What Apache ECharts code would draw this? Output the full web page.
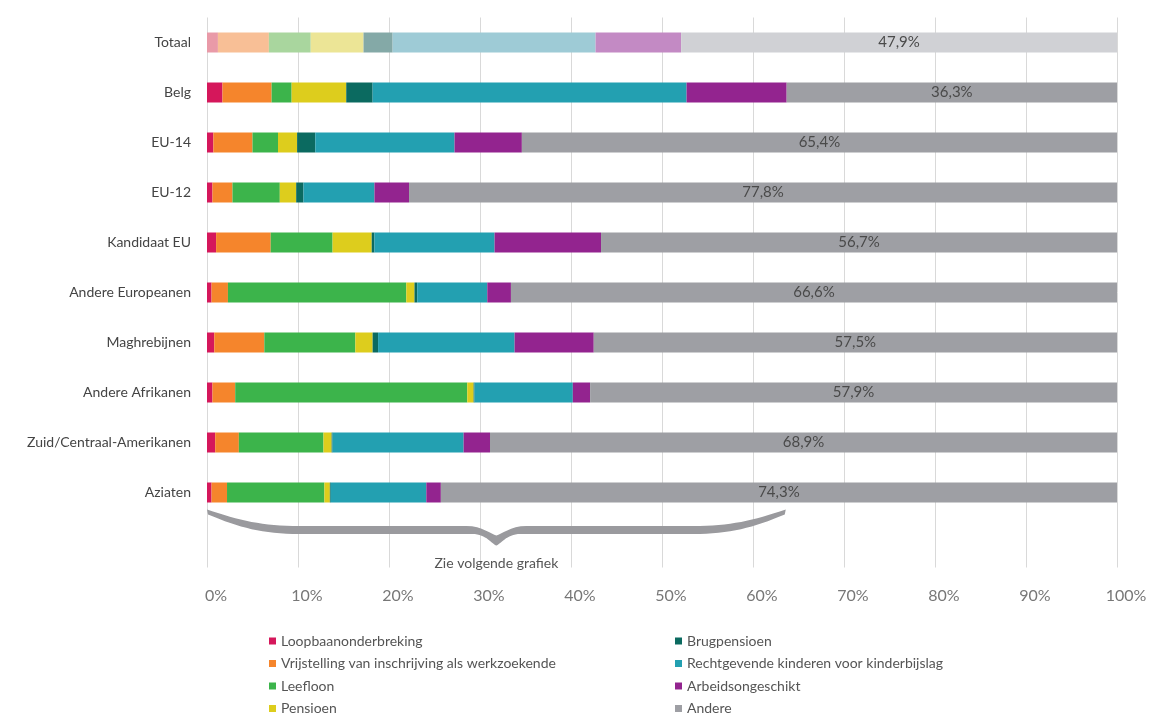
<!DOCTYPE html>
<html>
<head>
<meta charset="utf-8">
<script src="https://cdn.jsdelivr.net/npm/echarts@6/dist/echarts.min.js"></script>
<style>
html,body{margin:0;padding:0;background:#fff;}
#c{width:1159px;height:716px;}
</style>
</head>
<body>
<div id="c"></div>
<script>
const categories = ['Totaal','Belg','EU-14','EU-12','Kandidaat EU','Andere Europeanen','Maghrebijnen','Andere Afrikanen','Zuid/Centraal-Amerikanen','Aziaten'];
const seriesNames = ['Loopbaanonderbreking','Vrijstelling van inschrijving als werkzoekende','Leefloon','Pensioen','Brugpensioen','Rechtgevende kinderen voor kinderbijslag','Arbeidsongeschikt','Andere'];
const loopbaan   = [1.2, 1.7, 0.7, 0.6, 1.0, 0.5, 0.8, 0.6, 0.9, 0.5];
const vrijstelling = [5.6, 5.4, 4.3, 2.2, 6.0, 1.8, 5.5, 2.5, 2.6, 1.7];
const leefloon   = [4.6, 2.2, 2.8, 5.2, 6.8, 19.6, 10.0, 25.5, 9.3, 10.7];
const pensioen   = [5.8, 6.0, 2.1, 1.8, 4.3, 0.9, 1.9, 0.7, 0.9, 0.6];
const brugpensioen = [3.2, 2.9, 2.0, 0.8, 0.3, 0.3, 0.6, 0.1, 0.1, 0.1];
const rechtgevende = [22.3, 34.5, 15.3, 7.8, 13.2, 7.7, 15.0, 10.8, 14.4, 10.5];
const arbeidsongeschikt = [9.4, 11.0, 7.4, 3.8, 11.7, 2.6, 8.7, 1.9, 2.9, 1.6];
const andere     = [47.9, 36.3, 65.4, 77.8, 56.7, 66.6, 57.5, 57.9, 68.9, 74.3];
const xTicks = [0,10,20,30,40,50,60,70,80,90,100];
const braceRange = [0, 63.6];
const braceText = 'Zie volgende grafiek';

const colors = ['#d5175b','#f5852c','#3cb44b','#ddcd1d','#0b6a60','#23a0b1','#93248f','#9e9fa4'];
const lightColors = ['#e99aa8','#f8bf96','#a9d69e','#ece596','#84a9a7','#9ecbd6','#c38ac4','#d0d1d5'];
const values = [loopbaan, vrijstelling, leefloon, pensioen, brugpensioen, rechtgevende, arbeidsongeschikt, andere];

const yCats = categories.concat(['']);
const FONT = 'Lato, "Noto Sans", sans-serif';

const barSeries = seriesNames.map((name, si) => ({
  name: name,
  type: 'bar',
  stack: 'total',
  barWidth: 20,
  itemStyle: { color: colors[si] },
  label: si === 7 ? {
    show: true, position: 'inside', color: '#4a4a4a', fontSize: 15, fontFamily: FONT,
    formatter: p => p.value.toFixed(1).replace('.', ',') + '%'
  } : { show: false },
  data: values[si].map((v, ci) => ci === 0 ? { value: v, itemStyle: { color: lightColors[si] } } : v)
}));

const braceSeries = {
  type: 'custom',
  silent: true,
  data: [[braceRange[0], braceRange[1], categories.length]],
  renderItem: function (params, api) {
    const a = api.coord([api.value(0), api.value(2)]);
    const b = api.coord([api.value(1), api.value(2)]);
    const x0 = a[0], x1 = b[0], cy = a[1];
    const w = x1 - x0, xm = (x0 + x1) / 2;
    const f = 0.16 * w;
    const tTop = cy - 16.5, tBot = cy - 8.5;
    const p = [
      'M', x0, cy - 33,
      'C', x0 + f * 0.35, cy - 22, x0 + f * 0.6, tTop, x0 + f, tTop,
      'L', xm - 30, tTop,
      'C', xm - 14, tTop, xm - 5, cy - 8, xm, cy - 7,
      'C', xm + 5, cy - 8, xm + 14, tTop, xm + 30, tTop,
      'L', x1 - f, tTop,
      'C', x1 - f * 0.6, tTop, x1 - f * 0.35, cy - 22, x1, cy - 33,
      'L', x1 - 1, cy - 28,
      'C', x1 - f * 0.35, cy - 15, x1 - f * 0.6, tBot, x1 - f, tBot,
      'L', xm + 24, tBot,
      'C', xm + 10, tBot, xm + 4, cy + 2, xm, cy + 3,
      'C', xm - 4, cy + 2, xm - 10, tBot, xm - 24, tBot,
      'L', x0 + f, tBot,
      'C', x0 + f * 0.6, tBot, x0 + f * 0.35, cy - 15, x0 + 1, cy - 28,
      'Z'
    ].join(' ');
    return {
      type: 'group',
      children: [
        { type: 'path', shape: { pathData: p }, style: { fill: '#9a9a9e' } },
        { type: 'text', style: { text: braceText, x: xm, y: cy + 21, align: 'center', verticalAlign: 'middle', fill: '#555', font: '14px ' + FONT } }
      ]
    };
  }
};

const legendCommon = {
  orient: 'vertical', top: 634, padding: 0, height: 90,
  itemWidth: 7, itemHeight: 7, icon: 'rect', itemGap: 8.5,
  textStyle: { color: '#555', fontSize: 14, fontFamily: FONT }
};

const chart = echarts.init(document.getElementById('c'), null, { renderer: 'canvas' });
chart.setOption({
  animation: false,
  backgroundColor: '#fff',
  textStyle: { fontFamily: FONT },
  grid: { left: 207, right: 42, top: 17.5, height: 550, containLabel: false },
  legend: [
    Object.assign({ data: seriesNames.slice(0, 4), left: 269 }, legendCommon),
    Object.assign({ data: seriesNames.slice(4), left: 675 }, legendCommon)
  ],
  xAxis: {
    type: 'value', min: xTicks[0], max: xTicks[xTicks.length - 1], interval: 10,
    axisLine: { show: false }, axisTick: { show: false },
    splitLine: { show: true, lineStyle: { color: '#d9d9d9', width: 1 } },
    axisLabel: { color: '#777', fontSize: 16, margin: 20, fontFamily: FONT, padding: [0, 0, 0, 18],
      formatter: v => xTicks.indexOf(v) >= 0 ? v + '%' : '' }
  },
  yAxis: {
    type: 'category', data: yCats, inverse: true,
    axisLine: { show: false }, axisTick: { show: false },
    axisLabel: { color: '#444', fontSize: 14, margin: 16, fontFamily: FONT }
  },
  series: barSeries.concat([braceSeries])
});
</script>
</body>
</html>
